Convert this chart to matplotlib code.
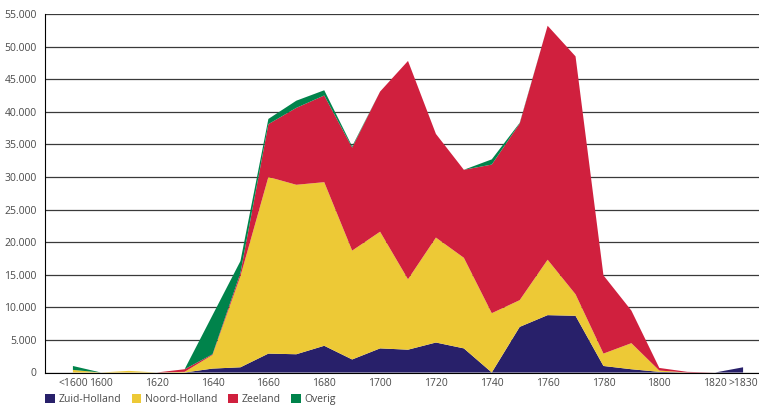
import matplotlib.pyplot as plt
from matplotlib.patches import Patch
from matplotlib.ticker import FuncFormatter

# categories: <1600, 1600..1820 per decade, >1830
periods = ['<1600'] + [str(y) for y in range(1600, 1830, 10)] + ['>1830']

zuid_holland = [0, 0, 0, 0, 0, 600, 800, 2900, 2800, 4100, 2000, 3700, 3500,
                4600, 3700, 0, 7000, 8800, 8700, 1000, 500, 100, 0, 0, 800]
noord_holland = [400, 0, 250, 0, 100, 2100, 14000, 27100, 26000, 25100, 16700, 17900, 10800,
                 16100, 13900, 9100, 4100, 8500, 3300, 1900, 4000, 200, 0, 0, 0]
zeeland = [0, 0, 0, 0, 400, 100, 500, 8100, 11800, 13300, 15800, 21500, 33500,
           15900, 13500, 22800, 27100, 35900, 36500, 12000, 5000, 400, 100, 0, 0]
overig = [600, 0, 0, 0, 0, 6000, 1800, 800, 1100, 800, 200, 0, 0,
          0, 0, 800, 100, 0, 0, 0, 0, 0, 0, 0, 0]

labels = ['Zuid-Holland', 'Noord-Holland', 'Zeeland', 'Overig']
colors = ['#28206a', '#edc936', '#d0203e', '#00834b']

plt.rcParams['font.family'] = ['Open Sans', 'DejaVu Sans']
txt = '#4a4a4a'

fig = plt.figure(figsize=(7.59, 4.05), dpi=100)
ax = fig.add_axes([45/759, 32.5/405, 714/759, 358.5/405])

x = list(range(len(periods)))
ax.stackplot(x, zuid_holland, noord_holland, zeeland, overig,
             colors=colors, linewidth=0, zorder=3)

ax.set_ylim(0, 55000)
ax.set_xlim(-1.0, 24.57)
ax.set_yticks(range(0, 55001, 5000))
ax.yaxis.set_major_formatter(FuncFormatter(lambda v, p: '0' if v == 0 else '{:,.0f}'.format(v).replace(',', '.')))
ax.grid(axis='y', color='#3a3a3a', linewidth=0.9, zorder=1)

tick_idx = [0, 1] + list(range(3, 24, 2)) + [24]
ax.set_xticks(tick_idx)
ax.set_xticklabels([periods[i] for i in tick_idx])
ax.tick_params(axis='both', length=0, labelsize=7.5, colors=txt)
ax.tick_params(axis='y', pad=6)
ax.tick_params(axis='x', pad=4)

for s in ['top', 'right']:
    ax.spines[s].set_visible(False)
ax.spines['left'].set_color('black')
ax.spines['bottom'].set_color('black')
ax.spines['left'].set_zorder(4)
ax.spines['bottom'].set_zorder(4)

handles = [Patch(facecolor=c, edgecolor='none') for c in colors]
fig.legend(handles, labels, loc='center left', bbox_to_anchor=(36/759, 5.5/405),
           ncol=4, frameon=False, fontsize=7.5, handlelength=0.9, handleheight=0.9,
           handletextpad=0.4, columnspacing=1.0, labelcolor=txt)

fig.savefig('out.png', dpi=100)
